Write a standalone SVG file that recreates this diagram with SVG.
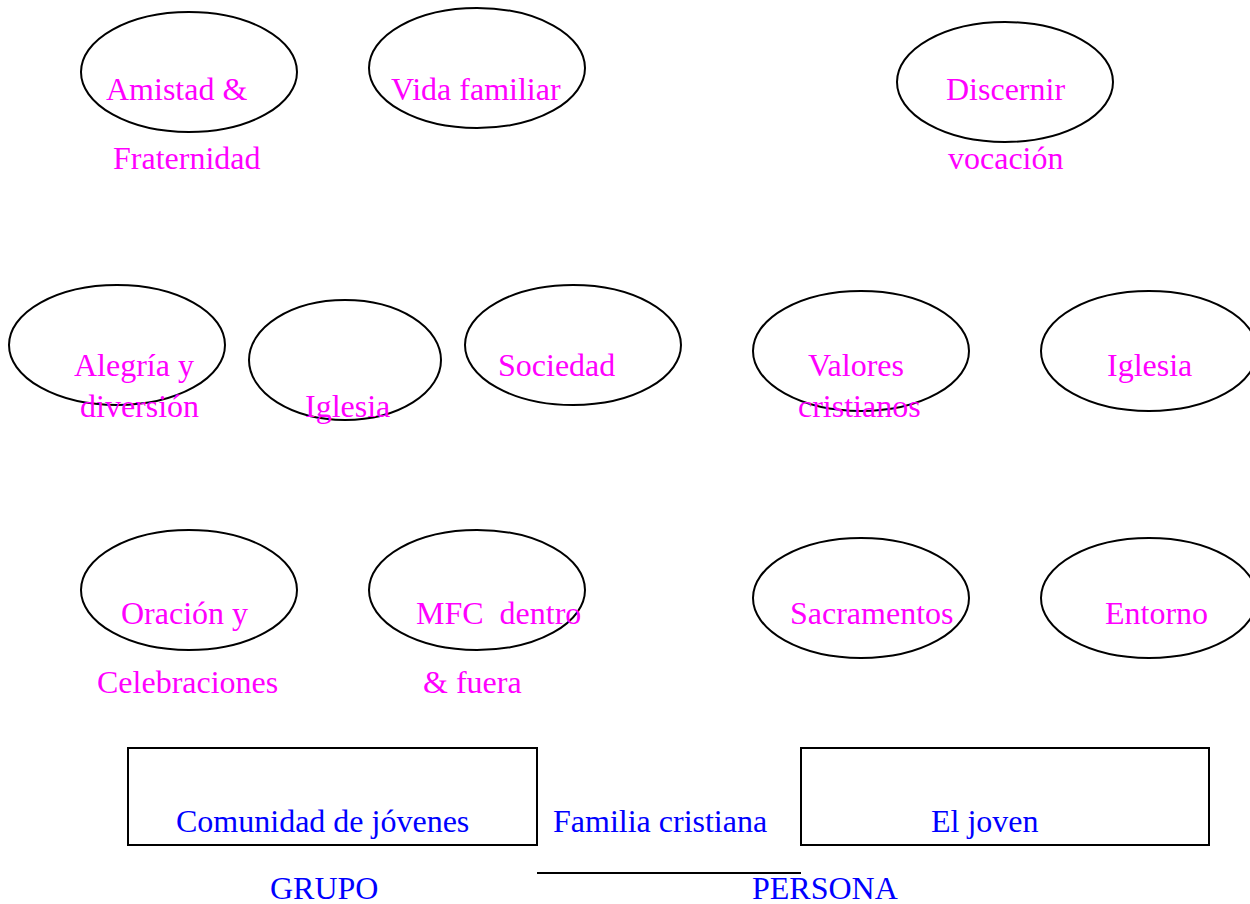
<svg xmlns="http://www.w3.org/2000/svg" width="1250" height="904" viewBox="0 0 1250 904">
<style>
.e{fill:none;stroke:#000;stroke-width:2}
.r{fill:none;stroke:#000;stroke-width:2}
.m{font-family:"Liberation Serif","Times New Roman",serif;font-size:32px;fill:#FF00FF}
.b{font-family:"Liberation Serif","Times New Roman",serif;font-size:32px;fill:#0000FF}
</style>
<rect width="1250" height="904" fill="#fff"/>
<g id="n-amistad"><ellipse class="e" cx="189" cy="72" rx="108" ry="60"/><text class="m" x="106" y="100">Amistad &amp;</text><text class="m" x="113" y="169">Fraternidad</text></g>
<g id="n-vida"><ellipse class="e" cx="477" cy="68" rx="108" ry="60"/><text class="m" x="391" y="100">Vida familiar</text></g>
<g id="n-discernir"><ellipse class="e" cx="1005" cy="82" rx="108" ry="60"/><text class="m" x="946" y="100">Discernir</text><text class="m" x="948" y="169">vocación</text></g>
<g id="n-alegria"><ellipse class="e" cx="117" cy="345" rx="108" ry="60"/><text class="m" x="74" y="376">Alegría y</text><text class="m" x="80" y="417">diversión</text></g>
<g id="n-iglesia1"><ellipse class="e" cx="345" cy="360" rx="96" ry="60"/><text class="m" x="305" y="417">Iglesia</text></g>
<g id="n-sociedad"><ellipse class="e" cx="573" cy="345" rx="108" ry="60"/><text class="m" x="498" y="376">Sociedad</text></g>
<g id="n-valores"><ellipse class="e" cx="861" cy="351" rx="108" ry="60"/><text class="m" x="808" y="376">Valores</text><text class="m" x="798" y="417">cristianos</text></g>
<g id="n-iglesia2"><ellipse class="e" cx="1149" cy="351" rx="108" ry="60"/><text class="m" x="1107" y="376">Iglesia</text></g>
<g id="n-oracion"><ellipse class="e" cx="189" cy="590" rx="108" ry="60"/><text class="m" x="121" y="624">Oración y</text><text class="m" x="97" y="693">Celebraciones</text></g>
<g id="n-mfc"><ellipse class="e" cx="477" cy="590" rx="108" ry="60"/><text class="m" x="416" y="624" xml:space="preserve">MFC  dentro</text><text class="m" x="423" y="693">&amp; fuera</text></g>
<g id="n-sacramentos"><ellipse class="e" cx="861" cy="598" rx="108" ry="60"/><text class="m" x="790" y="624">Sacramentos</text></g>
<g id="n-entorno"><ellipse class="e" cx="1149" cy="598" rx="108" ry="60"/><text class="m" x="1105" y="624">Entorno</text></g>
<g id="n-comunidad"><rect class="r" x="128" y="748" width="409" height="97"/><text class="b" x="176" y="832">Comunidad de jóvenes</text></g>
<g id="n-familia"><text class="b" x="553" y="832">Familia cristiana</text></g>
<g id="n-joven"><rect class="r" x="801" y="748" width="408" height="97"/><text class="b" x="931" y="832">El joven</text></g>
<g id="n-grupo"><text class="b" x="270" y="899">GRUPO</text></g>
<g id="n-persona"><text class="b" x="752" y="899">PERSONA</text></g>
<g id="connectors"><line x1="537" y1="873" x2="801" y2="873" stroke="#000" stroke-width="2"/></g>
</svg>
